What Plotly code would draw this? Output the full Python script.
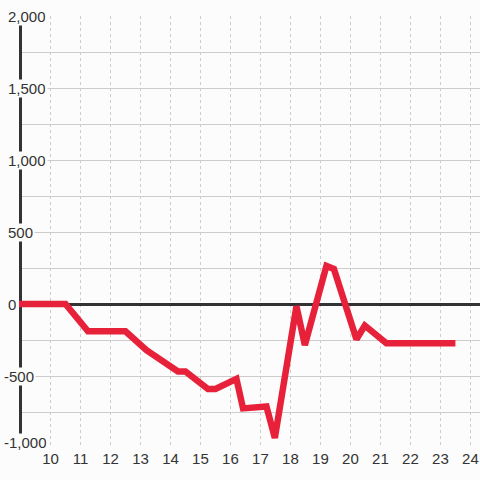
import plotly.graph_objects as go

x_vals = [8.95, 10.5, 11.25, 12.5, 13.2, 14.25, 14.5, 15.25, 15.5, 16.2, 16.42, 17.2, 17.48,
          18.2, 18.48, 19.2, 19.45, 20.2, 20.48, 21.2, 23.5]
y_vals = [0, 0, -190, -190, -320, -468, -468, -590, -590, -520, -725, -712, -930,
          -15, -285, 264, 243, -245, -150, -272, -272]

x_ticks = list(range(10, 25))
y_label_vals = [-1000, -500, 0, 500, 1000, 1500, 2000]
y_label_text = ["-1,000", "-500", "0", "500", "1,000", "1,500", "2,000"]

BG = "#fbfcfb"
FONT = "Liberation Sans, Arial, sans-serif"

fig = go.Figure()
fig.add_trace(go.Scatter(x=x_vals, y=y_vals, mode="lines",
                         line=dict(color="#e8213a", width=6.5), hoverinfo="skip"))

annotations = []
for v, t in zip(y_label_vals, y_label_text):
    annotations.append(dict(
        x=0, xref="paper", y=v, yref="y", text=t, showarrow=False,
        xanchor="left", yanchor="middle", xshift=-17 if v < 0 else -13,
        yshift=6 if v == -1000 else 0, height=15,
        font=dict(family=FONT, size=15, color="#333"),
        bgcolor=BG, borderpad=1))

fig.add_shape(type="line", xref="x", yref="y", x0=9, x1=9, y0=-1000, y1=2000,
              line=dict(color="#333", width=3), layer="between")

fig.update_layout(
    width=480, height=480,
    margin=dict(l=19, r=0, t=16, b=32),
    paper_bgcolor=BG, plot_bgcolor=BG,
    showlegend=False,
    annotations=annotations,
    xaxis=dict(range=[8.95, 24.32], tickvals=x_ticks, ticks="", showline=False,
               zeroline=False, showgrid=True, gridcolor="#cccccc", gridwidth=1,
               griddash="dot", tickfont=dict(family=FONT, size=15, color="#333"),
               fixedrange=True, automargin=False),
    yaxis=dict(range=[-1000, 2000], dtick=250, showticklabels=False, ticks="",
               showgrid=True, gridcolor="#cccccc", gridwidth=1,
               zeroline=True, zerolinecolor="#333", zerolinewidth=3,
               showline=False, fixedrange=True, automargin=False),
)

fig.write_html("out.html", config={"displayModeBar": False},
               post_script="document.body.style.margin='0';document.body.style.overflow='hidden';")
